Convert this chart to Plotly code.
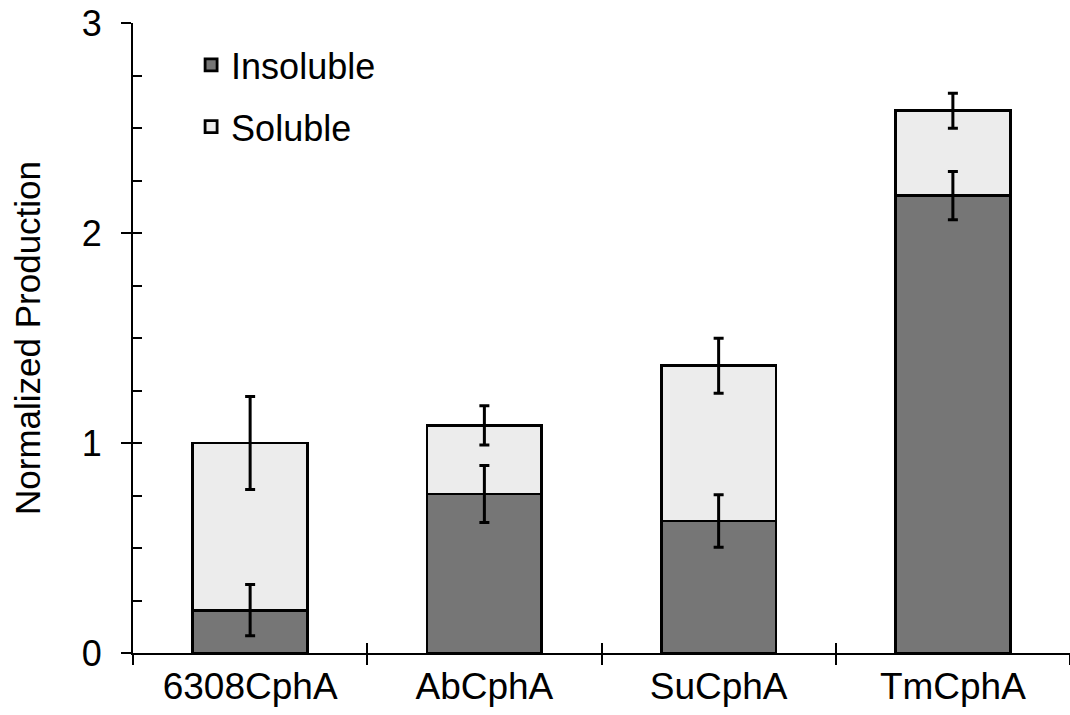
import plotly.graph_objects as go

categories = ["6308CphA", "AbCphA", "SuCphA", "TmCphA"]
insoluble = [0.204, 0.757, 0.629, 2.178]
soluble = [0.796, 0.327, 0.739, 0.404]
insoluble_err = [0.122, 0.136, 0.125, 0.115]
soluble_err = [0.222, 0.093, 0.131, 0.083]
y_ticks = [0, 1, 2, 3]

totals = [a + b for a, b in zip(insoluble, soluble)]

FONT = "Liberation Sans, Arial, sans-serif"
err_style = dict(type="data", visible=True, color="black", thickness=3, width=5)

fig = go.Figure()
fig.add_trace(go.Bar(
    x=categories, y=insoluble, name="Insoluble", legendgroup="a",
    marker=dict(color="#767676", line=dict(color="black", width=2.8)),
))
fig.add_trace(go.Bar(
    x=categories, y=soluble, name="Soluble", legendgroup="b",
    marker=dict(color="#ececec", line=dict(color="black", width=2.8)),
))
# error bars drawn above all bars, at the top of each stacked segment
fig.add_trace(go.Scatter(
    x=categories, y=insoluble, mode="markers", marker=dict(size=1, opacity=0),
    error_y=dict(array=insoluble_err, **err_style), showlegend=False, hoverinfo="skip",
))
fig.add_trace(go.Scatter(
    x=categories, y=totals, mode="markers", marker=dict(size=1, opacity=0),
    error_y=dict(array=soluble_err, **err_style), showlegend=False, hoverinfo="skip",
))
# helper trace so the overlay axes (crossing tick marks) are rendered
fig.add_trace(go.Scatter(
    x=[None], y=[None], xaxis="x2", yaxis="y2", showlegend=False, hoverinfo="skip",
))

fig.update_layout(
    width=1070, height=715,
    margin=dict(l=133, r=0, t=23, b=62, autoexpand=False),
    paper_bgcolor="white", plot_bgcolor="white",
    barmode="stack", bargap=0.51,
    font=dict(family=FONT, size=36, color="black"),
    showlegend=True,
    legend=dict(
        x=0.062, y=0.981, xanchor="left", yanchor="top",
        traceorder="grouped", tracegroupgap=12,
        font=dict(size=36), bgcolor="rgba(0,0,0,0)",
    ),
    xaxis=dict(
        type="category", tickson="boundaries", ticks="outside", ticklen=10,
        tickwidth=2, tickcolor="black", showline=True, linecolor="black",
        linewidth=2, showgrid=False, tickfont=dict(size=37),
        range=[-0.5, 3.5], automargin=False, ticklabeloverflow="allow",
    ),
    yaxis=dict(
        range=[0, 3], tickvals=y_ticks, ticks="outside", ticklen=10,
        tickwidth=2, tickcolor="black", showline=True, linecolor="black",
        linewidth=2, showgrid=False, zeroline=False, tickfont=dict(size=36),
        ticklabelstandoff=12, automargin=False, ticklabeloverflow="allow",
        title=dict(text="Normalized Production", font=dict(size=35), standoff=31),
    ),
    xaxis2=dict(
        overlaying="x", anchor="y", range=[-0.5, 3.5], tickvals=[0.5, 1.5, 2.5],
        ticks="inside", ticklen=10, tickwidth=2, tickcolor="black",
        showticklabels=False, showgrid=False, zeroline=False, showline=False,
        automargin=False,
    ),
    yaxis2=dict(
        overlaying="y", anchor="x", side="left", range=[0, 3], dtick=0.25,
        ticks="inside", ticklen=9, tickwidth=2, tickcolor="black",
        showticklabels=False, showgrid=False, zeroline=False, showline=False,
        automargin=False,
    ),
)

fig.write_html(
    "out.html",
    config={"displayModeBar": False},
    post_script="document.body.style.margin='0px';",
)
